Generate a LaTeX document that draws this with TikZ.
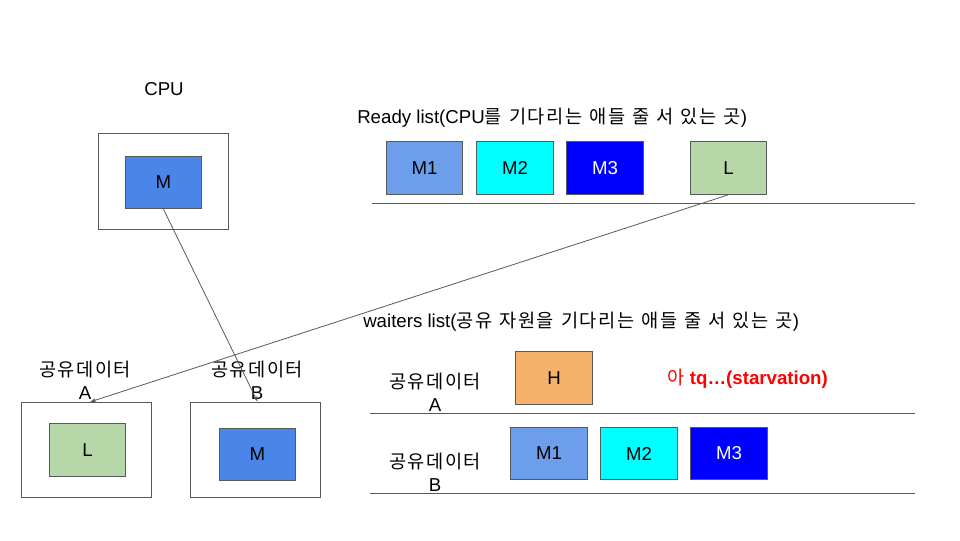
\documentclass[tikz,border=0pt]{standalone}
\usepackage{fontspec}
\setmainfont{Liberation Sans}
\newfontfamily\kr[LetterSpace=8,WordSpace=1.25]{Noto Sans CJK KR}
\usepackage{xcolor}
\usetikzlibrary{positioning,arrows.meta}

\definecolor{cpublue}{HTML}{4A86E8}
\definecolor{mone}{HTML}{6D9EEB}
\definecolor{mtwo}{HTML}{00FFFF}
\definecolor{mthree}{HTML}{0000FF}
\definecolor{lgreen}{HTML}{B6D7A8}
\definecolor{horange}{HTML}{F6B26B}
\definecolor{edge}{HTML}{595959}

\tikzset{
  holder/.style={draw=edge, line width=0.6pt, minimum width=97.5pt, minimum height=71.5pt, inner sep=0pt},
  proc/.style={draw=edge, line width=0.6pt, minimum width=57.5pt, minimum height=39.5pt, inner sep=0pt, font=\fontsize{14}{16}\selectfont},
  lbl/.style={font=\fontsize{14}{17}\selectfont, inner sep=0pt, align=center},
  queue/.style={draw=edge, line width=0.6pt},
  grab/.style={draw=edge, line width=0.6pt, -{Latex[length=4pt,width=3pt]}}
}

\begin{document}
\begin{tikzpicture}[x=0.75pt, y=-0.75pt]
  \useasboundingbox (0,0) rectangle (960,540);

  % CPU
  \node[lbl] (cpu) at (164,89) {CPU};
  \node[holder] (cpubox) at (163.5,181.5) {};
  \node[proc, fill=cpublue] (cpuM) at (163.5,182.5) {M};

  % ready list
  \node[lbl, anchor=west] (ready) at (357,118) {Ready list(CPU{\kr 를 기다리는 애들 줄 서 있는 곳})};
  \def \ry {168}
  \node[proc, fill=mone] (rM1) at (424.5,\ry) {M1};
  \node[proc, fill=mtwo] (rM2) at (515,\ry) {M2};
  \node[proc, fill=mthree, text=white] (rM3) at (605,\ry) {M3};
  \node[proc, fill=lgreen] (rL) at (728.5,\ry) {L};
  \coordinate (rq0) at (372,203);
  \coordinate (rq1) at (915,203);
  \draw[queue] (rq0) -- (rq1);

  % shared data
  \node[lbl] (dataA) at (85,380) {{\kr 공유데이터}\\A};
  \node[holder] (boxA) at (86,450) {};
  \node[proc, fill=lgreen] (heldL) at (87.5,450) {L};
  \node[lbl] (dataB) at (257,380) {{\kr 공유데이터}\\B};
  \node[holder] (boxB) at (255,450) {};
  \node[proc, fill=cpublue] (heldM) at (257.5,454.5) {M};

  % waiters list
  \node[lbl, anchor=west] (waiters) at (363,322) {waiters list({\kr 공유 자원을 기다리는 애들 줄 서 있는 곳})};
  \node[lbl] (waitA) at (435,392) {{\kr 공유데이터}\\A};
  \node[proc, fill=horange] (wH) at (554,378) {H};
  \node[lbl, anchor=west, text=red] (starve) at (667,379) {{\kr 아}\hspace{3pt}\textbf{tq…(starvation)}};
  \coordinate (wa0) at (370,413);
  \coordinate (wa1) at (915,413);
  \draw[queue] (wa0) -- (wa1);

  \node[lbl] (waitB) at (435,472) {{\kr 공유데이터}\\B};
  \def \wy {453.5}
  \node[proc, fill=mone] (wM1) at (549,\wy) {M1};
  \node[proc, fill=mtwo] (wM2) at (639,\wy) {M2};
  \node[proc, fill=mthree, text=white] (wM3) at (729,\wy) {M3};
  \coordinate (wb0) at (370,493);
  \coordinate (wb1) at (915,493);
  \draw[queue] (wb0) -- (wb1);

  % who holds what
  \draw[grab] (rL.south) -- ([xshift=3pt]boxA.north);
  \draw[grab] (cpuM.south) -- ([xshift=2pt]boxB.north);
\end{tikzpicture}
\end{document}
